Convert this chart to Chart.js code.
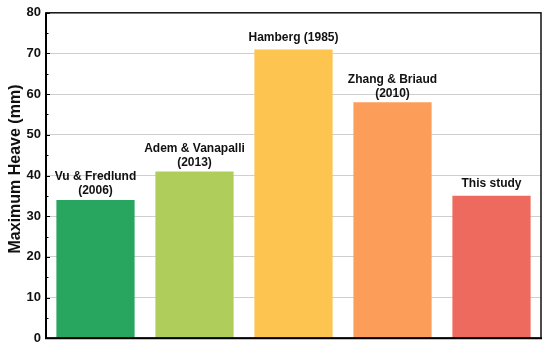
<!DOCTYPE html>
<html>
<head>
<meta charset="utf-8">
<script src="https://cdn.jsdelivr.net/npm/chart.js@4"></script>
<style>
html,body{margin:0;padding:0;background:#fff;}
#wrap{width:550px;height:351px;}
</style>
</head>
<body>
<div id="wrap"><canvas id="c" width="550" height="351"></canvas></div>
<script>
const categories = [
  ["Vu & Fredlund", "(2006)"],
  ["Adem & Vanapalli", "(2013)"],
  ["Hamberg (1985)"],
  ["Zhang & Briaud", "(2010)"],
  ["This study"]
];
const heaveValues = [34, 41, 71, 58, 35];
const barColors = ["#28A55F", "#AFCD5A", "#FDC44F", "#FD9D5A", "#EE6A5F"];
const yTickValues = [0, 10, 20, 30, 40, 50, 60, 70, 80];
const yAxisTitle = "Maximum Heave (mm)";

const FONT = "'Liberation Sans', Arial, sans-serif";

const framePlugin = {
  id: 'frame',
  afterDatasetsDraw(chart) {
    const ctx = chart.ctx;
    const a = chart.chartArea;
    const y = chart.scales.y;
    ctx.save();
    // inward ticks
    ctx.strokeStyle = '#000';
    ctx.lineWidth = 1;
    for (let v = 0; v <= 80; v += 5) {
      const py = Math.round(y.getPixelForValue(v)) + 0.5;
      const len = (v % 10 === 0) ? 4 : 2.5;
      ctx.beginPath();
      ctx.moveTo(a.left, py);
      ctx.lineTo(a.left + len, py);
      ctx.stroke();
    }
    // border
    ctx.lineWidth = 1.5;
    ctx.strokeStyle = '#111';
    ctx.strokeRect(a.left, a.top, a.right - a.left, a.bottom - a.top);
    ctx.lineWidth = 2;
    ctx.strokeStyle = '#000';
    ctx.beginPath();
    ctx.moveTo(a.left - 1, a.bottom);
    ctx.lineTo(a.right + 1, a.bottom);
    ctx.stroke();
    ctx.beginPath();
    ctx.moveTo(a.left, a.top);
    ctx.lineTo(a.left, a.bottom);
    ctx.stroke();
    // bar labels
    ctx.fillStyle = '#111';
    ctx.font = 'bold 12px ' + FONT;
    ctx.textAlign = 'center';
    ctx.textBaseline = 'middle';
    const meta = chart.getDatasetMeta(0);
    meta.data.forEach((bar, i) => {
      const lines = categories[i];
      const n = lines.length;
      const lastY = bar.y - (n > 1 ? 9 : 12);
      lines.forEach((t, j) => {
        ctx.fillText(t, bar.x, lastY - (n - 1 - j) * 14);
      });
    });
    // y axis title
    ctx.font = 'bold 16px ' + FONT;
    ctx.translate(16, 169);
    ctx.rotate(-Math.PI / 2);
    ctx.fillText(yAxisTitle, 0, 0);
    ctx.restore();
  }
};

new Chart(document.getElementById('c'), {
  type: 'bar',
  data: {
    labels: categories.map(c => c.join(' ')),
    datasets: [{
      data: heaveValues,
      backgroundColor: barColors,
      borderWidth: 0,
      barPercentage: 0.79,
      categoryPercentage: 1.0
    }]
  },
  options: {
    responsive: false,
    animation: false,
    devicePixelRatio: 1,
    layout: { padding: { left: 0, top: 11, right: 9, bottom: 11 } },
    plugins: { legend: { display: false }, tooltip: { enabled: false } },
    scales: {
      x: {
        display: false
      },
      y: {
        min: 0,
        max: 80,
        afterFit(scale) { scale.width = 46; },
        afterBuildTicks(scale) {
          const t = [];
          for (let v = 0; v <= 80; v += 5) t.push({ value: v });
          scale.ticks = t;
        },
        border: { display: false },
        grid: {
          drawTicks: false,
          color: ctx => {
            const v = ctx.tick ? ctx.tick.value : null;
            return (v !== null && v % 10 === 0 && v !== 0 && v !== 80) ? '#cfcfcf' : 'rgba(0,0,0,0)';
          },
          lineWidth: 1
        },
        ticks: {
          padding: 5,
          color: '#111',
          font: { family: FONT, size: 13, weight: 'bold' },
          callback: v => (yTickValues.includes(v) ? String(v) : '')
        },
        title: { display: false }
      }
    }
  },
  plugins: [framePlugin]
});
</script>
</body>
</html>
